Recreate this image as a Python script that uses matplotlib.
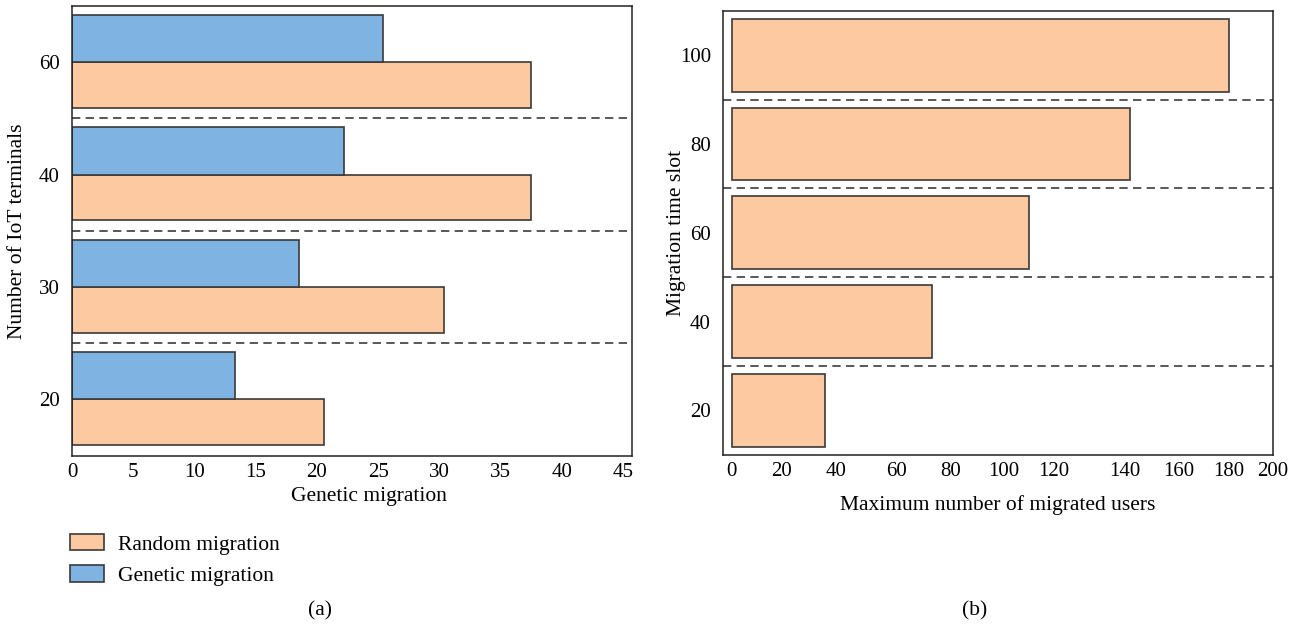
import numpy as np
import matplotlib
matplotlib.use("Agg")
import matplotlib.pyplot as plt
from matplotlib.patches import Patch

plt.rcParams["font.family"] = ["Liberation Serif", "DejaVu Serif"]

# (a) migration counts per number of IoT terminals
terminals = ["20", "30", "40", "60"]
random_migration = [20.6, 30.4, 37.5, 37.5]
genetic_migration = [13.3, 18.5, 22.2, 25.4]

# (b) maximum migrated users per migration time slot
time_slots = ["20", "40", "60", "80", "100"]
max_users = [36, 73, 110, 142, 180]

user_ticks = [0, 20, 40, 60, 80, 100, 120, 140, 160, 180, 200]
# the user-count axis has uneven tick spacing, so map values onto it piecewise
user_tick_pos = [0, 18.4, 38.3, 60.6, 80.5, 99.7, 118.2, 144.3, 164.2, 182.6, 198.5]

C_RANDOM = "#fcc9a1"
C_GENETIC = "#7fb3e1"
C_EDGE = "#3a3a3a"
C_DASH = "#3c3c3c"
FS_TICK = 15
FS_LABEL = 15.5


def user_forward(v):
    vals = [-50] + user_ticks + [250]
    pos = [-50] + user_tick_pos + [248.5]
    return np.interp(v, vals, pos)


def user_inverse(p):
    vals = [-50] + user_ticks + [250]
    pos = [-50] + user_tick_pos + [248.5]
    return np.interp(p, pos, vals)


def style_axes(ax):
    for s in ax.spines.values():
        s.set_linewidth(1.1)
        s.set_color("#222222")
    ax.tick_params(length=0, labelsize=FS_TICK)
    ax.tick_params(axis="y", pad=9)
    ax.tick_params(axis="x", pad=5)


fig = plt.figure(figsize=(12.99, 6.29), dpi=100)

# ---- panel (a)
ax1 = fig.add_axes([72 / 1299, 1 - 455.7 / 629, 559.7 / 1299, 449.7 / 629])
y = np.arange(len(terminals))
h = 0.405
ax1.barh(y - h, random_migration, height=h, align="edge",
         color=C_RANDOM, edgecolor=C_EDGE, linewidth=1.2)
ax1.barh(y, genetic_migration, height=h + 0.015, align="edge",
         color=C_GENETIC, edgecolor=C_EDGE, linewidth=1.2)
for b in y[:-1] + 0.5:
    ax1.axhline(b, color=C_DASH, linestyle=(0, (5, 3.2)), linewidth=1.2)
ax1.set_xlim(0, 45.7)
ax1.set_ylim(-0.5, len(terminals) - 0.5)
ax1.set_xticks(np.arange(0, 46, 5))
ax1.set_yticks(y)
ax1.set_yticklabels(terminals)
ax1.set_xlabel("Genetic migration", fontsize=FS_LABEL)
ax1.set_ylabel("Number of IoT terminals", fontsize=FS_LABEL)
ax1.xaxis.set_label_coords(0.53, -0.07)
ax1.yaxis.set_label_coords(-0.08, 0.5)
style_axes(ax1)

handles = [Patch(facecolor=C_RANDOM, edgecolor=C_EDGE, linewidth=1.2),
           Patch(facecolor=C_GENETIC, edgecolor=C_EDGE, linewidth=1.2)]
fig.legend(handles, ["Random migration", "Genetic migration"],
           loc="upper left", bbox_to_anchor=(70 / 1299, 1 - 534 / 629),
           frameon=False, fontsize=FS_LABEL, handlelength=1.6,
           handleheight=0.78, handletextpad=0.65, labelspacing=0.5,
           borderpad=0, borderaxespad=0)

fig.text(320 / 1299, 1 - 611 / 629, "(a)", ha="center", va="center",
         fontsize=FS_LABEL)

# ---- panel (b)
ax2 = fig.add_axes([723.3 / 1299, 1 - 454.7 / 629, 549.2 / 1299, 443.7 / 629])
ax2.set_xscale("function", functions=(user_forward, user_inverse))
y2 = np.arange(len(time_slots))
ax2.barh(y2, max_users, height=0.82, color=C_RANDOM,
         edgecolor=C_EDGE, linewidth=1.2)
for b in y2[:-1] + 0.5:
    ax2.axhline(b, color=C_DASH, linestyle=(0, (5, 3.2)), linewidth=1.2)
ax2.set_xlim(user_inverse(-3.1), 200)
ax2.set_ylim(-0.5, len(time_slots) - 0.5)
ax2.set_xticks(user_ticks)
ax2.set_xticklabels([str(t) for t in user_ticks])
ax2.xaxis.set_minor_locator(matplotlib.ticker.NullLocator())
ax2.set_yticks(y2)
ax2.set_yticklabels(time_slots)
ax2.set_xlabel("Maximum number of migrated users", fontsize=FS_LABEL)
ax2.set_ylabel("Migration time slot", fontsize=FS_LABEL)
ax2.xaxis.set_label_coords(0.5, -0.09)
ax2.yaxis.set_label_coords(-0.068, 0.5)
style_axes(ax2)

fig.text(975 / 1299, 1 - 611 / 629, "(b)", ha="center", va="center",
         fontsize=FS_LABEL)

fig.savefig("out.png", dpi=100)
